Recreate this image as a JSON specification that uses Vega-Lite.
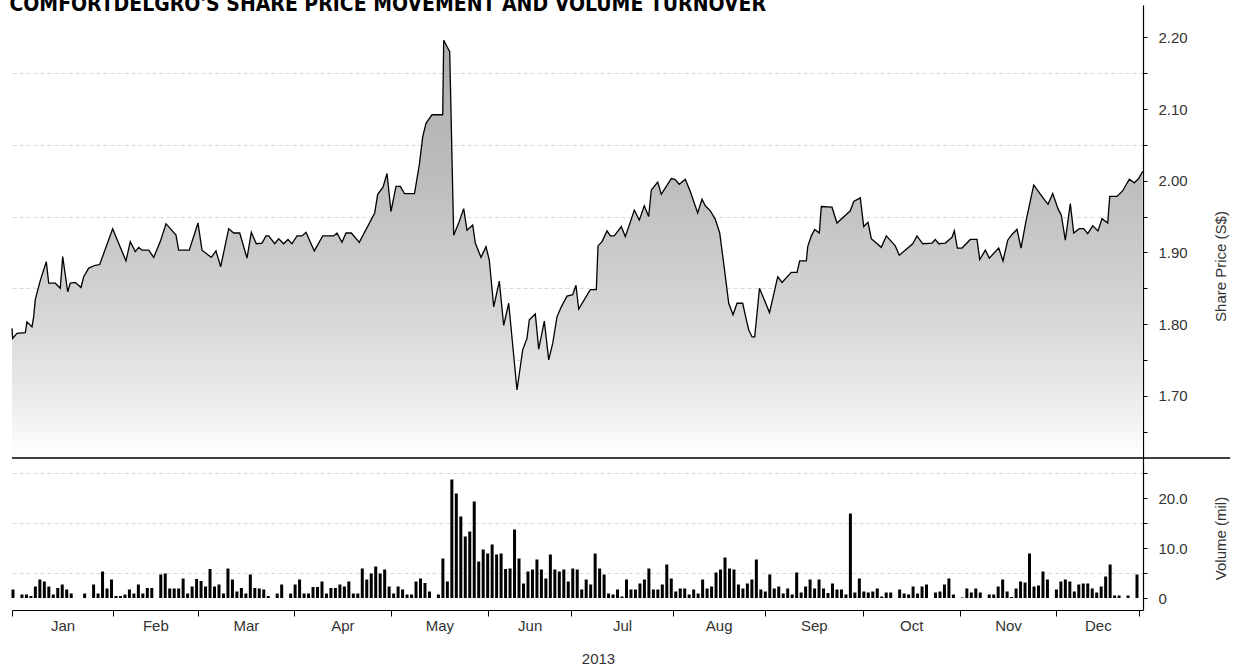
{
  "$schema": "https://vega.github.io/schema/vega-lite/v6.json",
  "padding": {"left": 9, "top": -6, "right": 0, "bottom": 0},
  "background": "white",
  "title": {"text": "COMFORTDELGRO'S SHARE PRICE MOVEMENT AND VOLUME TURNOVER", "anchor": "start", "fontSize": 21, "font": "DejaVu Sans Condensed, Liberation Sans, sans-serif", "fontWeight": "bold", "color": "black", "offset": -10},
  "datasets": {
    "price": [
      {"d": -0.22, "p": 1.794}, {"d": -0.07, "p": 1.780}, {"d": 0.89, "p": 1.787}, {"d": 2.75, "p": 1.788}, {"d": 3.13, "p": 1.803}, {"d": 4.24, "p": 1.796}, {"d": 4.62, "p": 1.810}, {"d": 4.98, "p": 1.834}, {"d": 6.10, "p": 1.861}, {"d": 7.44, "p": 1.887},
      {"d": 7.97, "p": 1.857}, {"d": 9.45, "p": 1.857}, {"d": 10.56, "p": 1.850}, {"d": 11.10, "p": 1.894}, {"d": 12.22, "p": 1.845}, {"d": 12.80, "p": 1.857}, {"d": 13.91, "p": 1.858}, {"d": 15.19, "p": 1.851}, {"d": 15.79, "p": 1.866}, {"d": 16.91, "p": 1.878},
      {"d": 18.38, "p": 1.882}, {"d": 19.36, "p": 1.883}, {"d": 22.26, "p": 1.933}, {"d": 25.23, "p": 1.888}, {"d": 26.19, "p": 1.915}, {"d": 27.31, "p": 1.901}, {"d": 28.07, "p": 1.907}, {"d": 28.81, "p": 1.903}, {"d": 30.30, "p": 1.903}, {"d": 31.42, "p": 1.893},
      {"d": 32.89, "p": 1.915}, {"d": 34.17, "p": 1.940}, {"d": 36.40, "p": 1.924}, {"d": 37.00, "p": 1.903}, {"d": 39.37, "p": 1.903}, {"d": 41.31, "p": 1.941}, {"d": 42.21, "p": 1.903}, {"d": 44.28, "p": 1.893}, {"d": 45.33, "p": 1.902}, {"d": 46.38, "p": 1.880},
      {"d": 48.17, "p": 1.933}, {"d": 49.29, "p": 1.927}, {"d": 50.63, "p": 1.927}, {"d": 52.26, "p": 1.892}, {"d": 53.22, "p": 1.928}, {"d": 54.33, "p": 1.912}, {"d": 55.61, "p": 1.913}, {"d": 56.50, "p": 1.923}, {"d": 57.10, "p": 1.923}, {"d": 58.44, "p": 1.912},
      {"d": 59.33, "p": 1.919}, {"d": 60.45, "p": 1.912}, {"d": 61.41, "p": 1.918}, {"d": 62.30, "p": 1.912}, {"d": 63.42, "p": 1.923}, {"d": 64.54, "p": 1.923}, {"d": 65.43, "p": 1.928}, {"d": 67.29, "p": 1.902}, {"d": 69.16, "p": 1.923}, {"d": 71.62, "p": 1.923},
      {"d": 72.35, "p": 1.927}, {"d": 73.47, "p": 1.914}, {"d": 74.36, "p": 1.927}, {"d": 75.55, "p": 1.927}, {"d": 77.33, "p": 1.914}, {"d": 80.77, "p": 1.955}, {"d": 81.44, "p": 1.981}, {"d": 82.63, "p": 1.991}, {"d": 83.52, "p": 2.010}, {"d": 84.41, "p": 1.957},
      {"d": 85.53, "p": 1.992}, {"d": 86.49, "p": 1.992}, {"d": 87.43, "p": 1.982}, {"d": 89.66, "p": 1.982}, {"d": 90.73, "p": 2.022}, {"d": 91.49, "p": 2.061}, {"d": 92.23, "p": 2.080}, {"d": 93.57, "p": 2.092}, {"d": 95.96, "p": 2.092}, {"d": 96.18, "p": 2.196},
      {"d": 97.52, "p": 2.180}, {"d": 98.41, "p": 1.924}, {"d": 99.53, "p": 1.941}, {"d": 100.65, "p": 1.961}, {"d": 101.38, "p": 1.931}, {"d": 102.66, "p": 1.938}, {"d": 103.24, "p": 1.913}, {"d": 104.51, "p": 1.893}, {"d": 105.63, "p": 1.908}, {"d": 106.37, "p": 1.889},
      {"d": 107.35, "p": 1.824}, {"d": 108.60, "p": 1.860}, {"d": 109.58, "p": 1.798}, {"d": 110.70, "p": 1.829}, {"d": 112.55, "p": 1.708}, {"d": 113.82, "p": 1.764}, {"d": 114.78, "p": 1.780}, {"d": 115.30, "p": 1.806}, {"d": 116.64, "p": 1.814}, {"d": 117.40, "p": 1.765},
      {"d": 118.65, "p": 1.804}, {"d": 119.63, "p": 1.750}, {"d": 120.52, "p": 1.773}, {"d": 121.48, "p": 1.810}, {"d": 122.44, "p": 1.824}, {"d": 123.72, "p": 1.839}, {"d": 124.99, "p": 1.841}, {"d": 125.72, "p": 1.854}, {"d": 126.33, "p": 1.821}, {"d": 128.92, "p": 1.848},
      {"d": 130.26, "p": 1.848}, {"d": 130.64, "p": 1.909}, {"d": 131.53, "p": 1.915}, {"d": 132.65, "p": 1.930}, {"d": 133.39, "p": 1.923}, {"d": 134.28, "p": 1.923}, {"d": 135.84, "p": 1.936}, {"d": 136.74, "p": 1.922}, {"d": 138.75, "p": 1.959}, {"d": 139.86, "p": 1.945},
      {"d": 140.98, "p": 1.965}, {"d": 141.96, "p": 1.950}, {"d": 142.54, "p": 1.987}, {"d": 143.97, "p": 1.998}, {"d": 144.77, "p": 1.981}, {"d": 147.01, "p": 2.003}, {"d": 147.77, "p": 2.002}, {"d": 148.79, "p": 1.995}, {"d": 150.13, "p": 2.002}, {"d": 151.25, "p": 1.985},
      {"d": 152.90, "p": 1.955}, {"d": 153.86, "p": 1.974}, {"d": 154.60, "p": 1.965}, {"d": 155.72, "p": 1.958}, {"d": 156.83, "p": 1.946}, {"d": 157.82, "p": 1.927}, {"d": 158.84, "p": 1.878}, {"d": 159.83, "p": 1.829}, {"d": 160.79, "p": 1.813}, {"d": 161.68, "p": 1.829},
      {"d": 162.95, "p": 1.829}, {"d": 163.69, "p": 1.808}, {"d": 164.29, "p": 1.792}, {"d": 165.03, "p": 1.782}, {"d": 165.63, "p": 1.782}, {"d": 166.70, "p": 1.850}, {"d": 168.94, "p": 1.816}, {"d": 170.77, "p": 1.866}, {"d": 171.73, "p": 1.858}, {"d": 173.81, "p": 1.872},
      {"d": 175.08, "p": 1.872}, {"d": 175.68, "p": 1.888}, {"d": 177.16, "p": 1.888}, {"d": 177.47, "p": 1.908}, {"d": 178.27, "p": 1.923}, {"d": 179.03, "p": 1.932}, {"d": 180.06, "p": 1.927}, {"d": 180.50, "p": 1.964}, {"d": 182.89, "p": 1.963}, {"d": 184.01, "p": 1.941},
      {"d": 186.98, "p": 1.958}, {"d": 187.74, "p": 1.971}, {"d": 189.21, "p": 1.976}, {"d": 189.97, "p": 1.936}, {"d": 190.93, "p": 1.942}, {"d": 191.67, "p": 1.919}, {"d": 193.90, "p": 1.907}, {"d": 195.02, "p": 1.923}, {"d": 197.03, "p": 1.909}, {"d": 197.92, "p": 1.896},
      {"d": 200.91, "p": 1.912}, {"d": 201.88, "p": 1.923}, {"d": 203.15, "p": 1.912}, {"d": 205.23, "p": 1.913}, {"d": 205.96, "p": 1.918}, {"d": 206.72, "p": 1.912}, {"d": 208.20, "p": 1.913}, {"d": 209.69, "p": 1.921}, {"d": 210.21, "p": 1.930}, {"d": 210.88, "p": 1.906},
      {"d": 211.93, "p": 1.906}, {"d": 213.78, "p": 1.918}, {"d": 215.28, "p": 1.918}, {"d": 215.88, "p": 1.890}, {"d": 217.13, "p": 1.903}, {"d": 218.02, "p": 1.892}, {"d": 220.12, "p": 1.906}, {"d": 221.08, "p": 1.888}, {"d": 222.13, "p": 1.917}, {"d": 223.09, "p": 1.925},
      {"d": 224.21, "p": 1.932}, {"d": 225.10, "p": 1.906}, {"d": 226.22, "p": 1.944}, {"d": 227.94, "p": 1.994}, {"d": 229.57, "p": 1.980}, {"d": 231.13, "p": 1.967}, {"d": 232.18, "p": 1.982}, {"d": 233.36, "p": 1.961}, {"d": 234.10, "p": 1.952}, {"d": 234.99, "p": 1.917},
      {"d": 236.11, "p": 1.968}, {"d": 236.87, "p": 1.927}, {"d": 238.12, "p": 1.933}, {"d": 239.10, "p": 1.933}, {"d": 239.99, "p": 1.926}, {"d": 241.11, "p": 1.937}, {"d": 242.29, "p": 1.930}, {"d": 243.19, "p": 1.947}, {"d": 244.46, "p": 1.941}, {"d": 244.91, "p": 1.978},
      {"d": 246.54, "p": 1.978}, {"d": 247.81, "p": 1.986}, {"d": 249.29, "p": 2.002}, {"d": 250.40, "p": 1.997}, {"d": 251.38, "p": 2.003}, {"d": 252.27, "p": 2.013}
    ],
    "volume": [
      {"d": 0, "v": 1.7}, {"d": 2, "v": 0.7}, {"d": 3, "v": 0.7}, {"d": 4, "v": 0.4}, {"d": 5, "v": 2.3}, {"d": 6, "v": 3.7}, {"d": 7, "v": 3.3}, {"d": 8, "v": 2.3}, {"d": 9, "v": 0.7}, {"d": 10, "v": 2.0},
      {"d": 11, "v": 2.7}, {"d": 12, "v": 1.7}, {"d": 13, "v": 0.9}, {"d": 16, "v": 0.9}, {"d": 18, "v": 2.7}, {"d": 19, "v": 0.9}, {"d": 20, "v": 5.3}, {"d": 21, "v": 1.9}, {"d": 22, "v": 3.7}, {"d": 23, "v": 0.4},
      {"d": 24, "v": 0.4}, {"d": 25, "v": 0.7}, {"d": 26, "v": 1.7}, {"d": 27, "v": 0.9}, {"d": 28, "v": 2.7}, {"d": 29, "v": 0.9}, {"d": 30, "v": 2.0}, {"d": 31, "v": 2.0}, {"d": 33, "v": 4.7}, {"d": 34, "v": 4.9},
      {"d": 35, "v": 1.9}, {"d": 36, "v": 1.9}, {"d": 37, "v": 1.9}, {"d": 38, "v": 3.9}, {"d": 39, "v": 0.9}, {"d": 40, "v": 2.3}, {"d": 41, "v": 3.8}, {"d": 42, "v": 3.4}, {"d": 43, "v": 2.3}, {"d": 44, "v": 5.8},
      {"d": 45, "v": 2.3}, {"d": 46, "v": 2.7}, {"d": 47, "v": 0.9}, {"d": 48, "v": 5.9}, {"d": 49, "v": 3.7}, {"d": 50, "v": 1.3}, {"d": 51, "v": 2.0}, {"d": 52, "v": 0.9}, {"d": 53, "v": 4.7}, {"d": 54, "v": 2.0},
      {"d": 55, "v": 1.9}, {"d": 56, "v": 1.7}, {"d": 57, "v": 0.4}, {"d": 59, "v": 0.9}, {"d": 60, "v": 2.7}, {"d": 62, "v": 0.9}, {"d": 63, "v": 2.7}, {"d": 64, "v": 3.7}, {"d": 65, "v": 0.9}, {"d": 66, "v": 0.9},
      {"d": 67, "v": 2.2}, {"d": 68, "v": 2.2}, {"d": 69, "v": 3.3}, {"d": 70, "v": 0.9}, {"d": 71, "v": 2.0}, {"d": 72, "v": 2.0}, {"d": 73, "v": 2.7}, {"d": 74, "v": 2.3}, {"d": 75, "v": 3.3}, {"d": 76, "v": 0.9},
      {"d": 77, "v": 0.9}, {"d": 78, "v": 5.9}, {"d": 79, "v": 3.7}, {"d": 80, "v": 4.9}, {"d": 81, "v": 6.3}, {"d": 82, "v": 4.9}, {"d": 83, "v": 5.7}, {"d": 84, "v": 2.3}, {"d": 85, "v": 0.9}, {"d": 86, "v": 2.3},
      {"d": 87, "v": 1.7}, {"d": 88, "v": 0.7}, {"d": 89, "v": 0.7}, {"d": 90, "v": 3.3}, {"d": 91, "v": 3.9}, {"d": 92, "v": 3.0}, {"d": 93, "v": 1.3}, {"d": 95, "v": 0.7}, {"d": 96, "v": 7.9}, {"d": 97, "v": 3.3},
      {"d": 98, "v": 23.7}, {"d": 99, "v": 20.9}, {"d": 100, "v": 16.3}, {"d": 101, "v": 12.3}, {"d": 102, "v": 13.3}, {"d": 103, "v": 19.3}, {"d": 104, "v": 7.3}, {"d": 105, "v": 9.7}, {"d": 106, "v": 8.9}, {"d": 107, "v": 10.7},
      {"d": 108, "v": 8.7}, {"d": 109, "v": 8.9}, {"d": 110, "v": 5.8}, {"d": 111, "v": 5.9}, {"d": 112, "v": 13.7}, {"d": 113, "v": 7.9}, {"d": 114, "v": 2.9}, {"d": 115, "v": 5.3}, {"d": 116, "v": 5.7}, {"d": 117, "v": 7.7},
      {"d": 118, "v": 5.7}, {"d": 119, "v": 3.9}, {"d": 120, "v": 8.7}, {"d": 121, "v": 5.7}, {"d": 122, "v": 5.3}, {"d": 123, "v": 5.7}, {"d": 124, "v": 3.3}, {"d": 125, "v": 5.9}, {"d": 126, "v": 5.7}, {"d": 127, "v": 1.7},
      {"d": 128, "v": 3.7}, {"d": 129, "v": 2.7}, {"d": 130, "v": 8.9}, {"d": 131, "v": 5.9}, {"d": 132, "v": 4.7}, {"d": 133, "v": 0.9}, {"d": 134, "v": 0.7}, {"d": 135, "v": 1.7}, {"d": 136, "v": 0.3}, {"d": 137, "v": 3.7},
      {"d": 138, "v": 1.7}, {"d": 139, "v": 1.7}, {"d": 140, "v": 2.9}, {"d": 141, "v": 3.7}, {"d": 142, "v": 5.9}, {"d": 143, "v": 1.7}, {"d": 144, "v": 1.7}, {"d": 145, "v": 2.7}, {"d": 146, "v": 6.7}, {"d": 147, "v": 3.9},
      {"d": 148, "v": 1.3}, {"d": 149, "v": 1.9}, {"d": 150, "v": 1.9}, {"d": 151, "v": 0.7}, {"d": 152, "v": 1.7}, {"d": 153, "v": 0.9}, {"d": 154, "v": 3.7}, {"d": 155, "v": 1.9}, {"d": 156, "v": 2.3}, {"d": 157, "v": 5.1},
      {"d": 158, "v": 5.7}, {"d": 159, "v": 8.1}, {"d": 160, "v": 5.9}, {"d": 161, "v": 5.7}, {"d": 162, "v": 2.7}, {"d": 163, "v": 1.9}, {"d": 164, "v": 2.9}, {"d": 165, "v": 3.7}, {"d": 166, "v": 7.7}, {"d": 167, "v": 1.7},
      {"d": 168, "v": 1.3}, {"d": 169, "v": 4.7}, {"d": 170, "v": 1.9}, {"d": 171, "v": 2.3}, {"d": 172, "v": 0.9}, {"d": 173, "v": 1.9}, {"d": 174, "v": 0.7}, {"d": 175, "v": 5.1}, {"d": 176, "v": 1.1}, {"d": 177, "v": 2.3},
      {"d": 178, "v": 3.7}, {"d": 179, "v": 1.9}, {"d": 180, "v": 3.7}, {"d": 181, "v": 1.9}, {"d": 182, "v": 1.0}, {"d": 183, "v": 2.9}, {"d": 184, "v": 1.7}, {"d": 185, "v": 1.7}, {"d": 186, "v": 0.7}, {"d": 187, "v": 16.9},
      {"d": 188, "v": 1.1}, {"d": 189, "v": 3.9}, {"d": 190, "v": 1.3}, {"d": 191, "v": 1.1}, {"d": 192, "v": 1.3}, {"d": 193, "v": 1.9}, {"d": 194, "v": 0.3}, {"d": 195, "v": 1.1}, {"d": 196, "v": 1.1}, {"d": 198, "v": 1.7},
      {"d": 199, "v": 0.9}, {"d": 200, "v": 0.7}, {"d": 201, "v": 2.3}, {"d": 202, "v": 0.9}, {"d": 203, "v": 2.3}, {"d": 204, "v": 2.7}, {"d": 206, "v": 1.1}, {"d": 207, "v": 1.3}, {"d": 208, "v": 2.7}, {"d": 209, "v": 3.9},
      {"d": 210, "v": 0.7}, {"d": 212, "v": 0.1}, {"d": 213, "v": 1.9}, {"d": 214, "v": 1.1}, {"d": 215, "v": 1.9}, {"d": 216, "v": 1.1}, {"d": 218, "v": 0.7}, {"d": 219, "v": 0.7}, {"d": 220, "v": 2.3}, {"d": 221, "v": 3.7},
      {"d": 222, "v": 1.3}, {"d": 223, "v": 0.2}, {"d": 224, "v": 1.9}, {"d": 225, "v": 3.3}, {"d": 226, "v": 3.1}, {"d": 227, "v": 8.9}, {"d": 228, "v": 2.3}, {"d": 229, "v": 2.5}, {"d": 230, "v": 5.3}, {"d": 231, "v": 3.7},
      {"d": 233, "v": 1.7}, {"d": 234, "v": 3.3}, {"d": 235, "v": 3.7}, {"d": 236, "v": 3.3}, {"d": 237, "v": 1.3}, {"d": 238, "v": 2.7}, {"d": 239, "v": 2.9}, {"d": 240, "v": 2.9}, {"d": 241, "v": 1.9}, {"d": 242, "v": 1.1},
      {"d": 243, "v": 2.3}, {"d": 244, "v": 4.3}, {"d": 245, "v": 6.7}, {"d": 246, "v": 0.5}, {"d": 247, "v": 0.5}, {"d": 249, "v": 0.5}, {"d": 251, "v": 4.7}
    ]
  },
  "spacing": 0,
  "bounds": "flush",
  "vconcat": [
    {
      "width": 1131,
      "height": 453,
      "layer": [
        {
          "data": {"name": "price"},
          "mark": {"type": "area", "opacity": 1, "fill": {"gradient": "linear", "x1": 0, "y1": 0, "x2": 0, "y2": 1, "stops": [{"offset": 0, "color": "#acadaf"}, {"offset": 0.35, "color": "#bdbec0"}, {"offset": 0.5, "color": "#c9cacc"}, {"offset": 0.7, "color": "#dadadb"}, {"offset": 0.86, "color": "#ececec"}, {"offset": 1, "color": "#ffffff"}]}},
          "encoding": {
            "x": {"field": "d", "type": "quantitative", "scale": {"domain": [-0.22, 252.34], "nice": false, "zero": false, "padding": 0}, "axis": null},
            "y": {"field": "p", "type": "quantitative", "scale": {"domain": [1.6131, 2.2451], "nice": false, "zero": false},
              "axis": {
                "orient": "right",
                "values": [1.65, 1.7, 1.75, 1.8, 1.85, 1.9, 1.95, 2.0, 2.05, 2.1, 2.15, 2.2],
                "labelExpr": "round(datum.value*100) % 10 == 5 ? '' : format(datum.value, '.2f')",
                "grid": true,
                "gridDash": [4, 3],
                "gridColor": "#d9d9d9",
                "gridWidth": 1,
                "gridOpacity": {"condition": {"test": "round(datum.value*100) % 10 == 5", "value": 1}, "value": 0},
                "tickSize": 4,
                "tickColor": "#000000",
                "domainColor": "#000000",
                "domainWidth": 1.2,
                "labelPadding": 11,
                "labelFontSize": 15,
                "labelColor": "#333333",
                "labelFont": "Liberation Sans",
                "labelOverlap": false,
                "labelFlush": false,
                "title": "Share Price (S$)",
                "titleAngle": 270,
                "titleY": 261,
                "titlePadding": 41,
                "titleFontSize": 15,
                "titleFontWeight": "normal",
                "titleColor": "#333333",
                "titleFont": "Liberation Sans"
              }
            },
            "y2": {"datum": 1.6131}
          }
        },
        {
          "data": {"name": "price"},
          "mark": {"type": "line", "color": "#000000", "strokeWidth": 1.3},
          "encoding": {
            "x": {"field": "d", "type": "quantitative"},
            "y": {"field": "p", "type": "quantitative"}
          }
        },
        {
          "data": {"values": [{}]},
          "mark": {"type": "rule", "color": "#000000", "strokeWidth": 1.3},
          "encoding": {
            "x": {"datum": -0.22, "type": "quantitative"},
            "x2": {"datum": 271.8},
            "y": {"datum": 1.6131, "type": "quantitative"}
          }
        }
      ]
    },
    {
      "width": 1131,
      "height": 152,
      "data": {"name": "volume"},
      "mark": {"type": "bar", "color": "#000000", "size": 3},
      "encoding": {
        "x": {"field": "d", "type": "quantitative", "scale": {"domain": [-0.22, 252.34], "nice": false, "zero": false, "padding": 0},
          "axis": {
            "orient": "bottom",
            "values": [-0.22, 11.06, 22.33, 31.79, 41.25, 52, 62.75, 73.55, 84.35, 95.21, 106.07, 115.38, 124.68, 136, 147.32, 157.59, 167.86, 178.81, 189.75, 200.58, 211.41, 222.2, 232.98, 242.25, 251.52],
            "labelExpr": "datum.value == 11.06 ? 'Jan' : datum.value == 31.79 ? 'Feb' : datum.value == 52 ? 'Mar' : datum.value == 73.55 ? 'Apr' : datum.value == 95.21 ? 'May' : datum.value == 115.38 ? 'Jun' : datum.value == 136 ? 'Jul' : datum.value == 157.59 ? 'Aug' : datum.value == 178.81 ? 'Sep' : datum.value == 200.58 ? 'Oct' : datum.value == 222.2 ? 'Nov' : datum.value == 242.25 ? 'Dec' : ''",
            "tickOpacity": {"condition": {"test": "datum.value == -0.22 || datum.value == 22.33 || datum.value == 41.25 || datum.value == 62.75 || datum.value == 84.35 || datum.value == 106.07 || datum.value == 124.68 || datum.value == 147.32 || datum.value == 167.86 || datum.value == 189.75 || datum.value == 211.41 || datum.value == 232.98 || datum.value == 251.52", "value": 1}, "value": 0},
            "grid": false,
            "tickSize": 6,
            "tickColor": "#000000",
            "domainColor": "#000000",
            "domainWidth": 1.2,
            "labelPadding": 2,
            "labelFontSize": 15,
            "labelColor": "#333333",
            "labelFont": "Liberation Sans",
            "labelOverlap": false,
            "labelFlush": false,
            "title": "2013",
            "titleX": 586,
            "titlePadding": 18,
            "titleFontSize": 15,
            "titleFontWeight": "normal",
            "titleColor": "#333333",
            "titleFont": "Liberation Sans"
          }
        },
        "y": {"field": "v", "type": "quantitative", "scale": {"domain": [-2.4, 28], "nice": false, "zero": false},
          "axis": {
            "orient": "right",
            "values": [0, 5, 10, 15, 20, 25],
            "labelExpr": "datum.value == 0 ? '0' : (datum.value % 10 == 0 ? format(datum.value, '.1f') : '')",
            "grid": true,
            "gridDash": [4, 3],
            "gridColor": "#d9d9d9",
            "gridWidth": 1,
            "gridOpacity": {"condition": {"test": "datum.value % 10 == 5", "value": 1}, "value": 0},
            "tickSize": 4,
            "tickColor": "#000000",
            "domainColor": "#000000",
            "domainWidth": 1.2,
            "labelPadding": 11,
            "labelFontSize": 15,
            "labelColor": "#333333",
            "labelFont": "Liberation Sans",
            "labelOverlap": false,
            "labelFlush": false,
            "title": "Volume (mil)",
            "titleAngle": 270,
            "titleY": 80,
            "titlePadding": 41,
            "titleFontSize": 15,
            "titleFontWeight": "normal",
            "titleColor": "#333333",
            "titleFont": "Liberation Sans"
          }
        },
        "y2": {"datum": 0}
      }
    }
  ],
  "config": {
    "view": {"stroke": null}
  }
}
